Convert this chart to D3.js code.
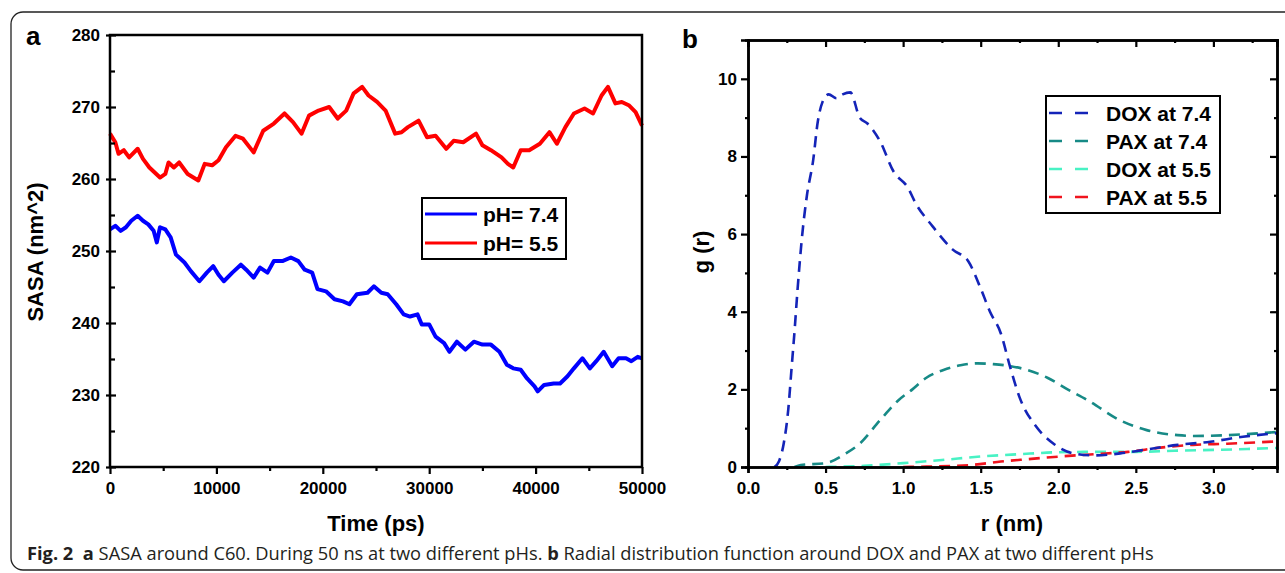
<!DOCTYPE html>
<html>
<head>
<meta charset="utf-8">
<script src="https://cdn.jsdelivr.net/npm/d3@7"></script>
<style>
  body { margin: 0; background: #fff; }
  text { font-family: "Liberation Sans", Arial, sans-serif; font-weight: bold; fill: #000; }
  .caption text, text.caption { font-family: "Open Sans", "Noto Sans", sans-serif; font-weight: normal; fill: #231f20; }
</style>
</head>
<body>
<svg width="1285" height="573"></svg>
<script>
// panel a : SASA vs time
const timePs74 = [0,500,1000,1500,2000,2600,3100,3600,4100,4400,4700,5200,5700,6200,7000,7600,8400,9100,9700,10200,10700,11500,12300,12800,13500,14100,14800,15400,16200,17000,17700,18300,19000,19500,20300,21100,21900,22500,23200,24200,24800,25500,26100,26900,27600,28200,28900,29300,30000,30600,31400,31900,32600,33400,34200,35000,35800,36600,37300,37900,38600,39200,39900,40200,40800,41700,42300,43000,43600,44400,45100,45700,46400,47200,47800,48500,49000,49600,50000];
const sasa74 = [253.0,253.5,252.8,253.3,254.2,254.9,254.2,253.7,252.8,251.2,253.3,253,251.9,249.5,248.4,247.2,245.8,247,247.9,246.7,245.8,247,248.1,247.4,246.3,247.7,247,248.6,248.6,249.1,248.6,247.4,247,244.7,244.4,243.3,243,242.6,244,244.2,245.1,244.2,244,242.6,241.2,240.9,241.2,239.8,239.8,238.1,237.2,236,237.4,236.3,237.4,237,237,236,234.2,233.7,233.5,232.3,231.2,230.5,231.4,231.6,231.6,232.6,233.7,235.1,233.7,234.7,236,234,235.1,235.1,234.7,235.3,235.1];

const timePs55 = [0,500,800,1300,1800,2600,3100,3700,4700,5200,5500,6000,6500,7300,8300,8900,9600,10200,10900,11800,12500,13500,14400,15400,16400,17200,18000,18700,19600,20600,21400,22200,22900,23700,24300,25100,25900,26800,27400,28000,29000,29800,30600,31600,32300,33200,34400,35000,35800,36800,37400,37900,38600,39400,40400,41300,42000,42800,43600,44600,45400,46200,46800,47500,48100,48800,49400,50000];
const sasa55 = [266.3,265.1,263.5,264,263,264.2,262.8,261.6,260.2,260.7,262.3,261.6,262.3,260.7,259.8,262.1,261.9,262.6,264.4,266,265.6,263.7,266.7,267.7,269.1,267.9,266.3,268.8,269.5,270,268.4,269.5,271.9,272.8,271.6,270.7,269.5,266.3,266.5,267.2,268.1,265.8,266,264.2,265.3,265.1,266.3,264.7,264,263,262.1,261.6,264,264,264.9,266.5,264.9,267.2,269.1,269.8,269.1,271.6,272.8,270.5,270.7,270.2,269.3,267.4];

const timeTicks = [0,10000,20000,30000,40000,50000];
const sasaTicks = [220,230,240,250,260,270,280];
const legendA = ['pH= 7.4','pH= 5.5'];

// panel b : radial distribution functions
const rDox74 = [0.17,0.2,0.23,0.26,0.28,0.3,0.32,0.35,0.38,0.42,0.45,0.48,0.52,0.57,0.61,0.66,0.72,0.77,0.85,0.94,1.03,1.08,1.19,1.32,1.42,1.5,1.56,1.63,1.69,1.75,1.86,1.97,2.1,2.23,2.4,2.55,2.77,2.98,3.19,3.41];
const gDox74 = [0,0.15,0.6,1.5,2.5,3.5,4.6,6.0,7.0,7.9,8.9,9.4,9.6,9.5,9.6,9.65,9.0,8.85,8.4,7.6,7.2,6.8,6.2,5.6,5.3,4.6,4.0,3.44,2.57,1.8,1.03,0.6,0.35,0.3,0.35,0.44,0.57,0.65,0.78,0.87];
const rPax74 = [0.3,0.34,0.5,0.63,0.72,0.85,0.97,1.06,1.15,1.26,1.37,1.48,1.58,1.69,1.8,1.93,2.06,2.19,2.4,2.57,2.77,2.87,3.09,3.3,3.41];
const gPax74 = [0,0.05,0.1,0.35,0.6,1.2,1.72,2.0,2.3,2.5,2.62,2.67,2.65,2.6,2.5,2.3,2.0,1.72,1.2,0.95,0.82,0.8,0.82,0.87,0.9];
const rDox55 = [0.5,0.75,1.0,1.25,1.5,1.75,2.0,2.25,2.5,2.75,3.0,3.41];
const gDox55 = [0,0.03,0.1,0.18,0.27,0.33,0.38,0.39,0.39,0.42,0.44,0.49];
const rPax55 = [1.0,1.15,1.43,1.63,1.8,2.01,2.23,2.45,2.66,2.87,3.09,3.41];
const gPax55 = [0,0.01,0.05,0.14,0.2,0.27,0.33,0.39,0.5,0.57,0.6,0.66];

const rTicks = [0,0.5,1.0,1.5,2.0,2.5,3.0];
const gTicks = [0,2,4,6,8,10];
const legendB = ['DOX at 7.4','PAX at 7.4','DOX at 5.5','PAX at 5.5'];
const colorsB = ['#1424b8','#178a86','#48f2c4','#f0141e'];

const svg = d3.select('svg');

// outer frame of the figure
svg.append('rect')
    .attr('x', 11).attr('y', 12)
    .attr('width', 1320).attr('height', 558)
    .attr('rx', 12)
    .attr('fill', 'none').attr('stroke', '#222').attr('stroke-width', 1.3);

// ---------- panel a ----------
const xA = d3.scaleLinear().domain([0, 50000]).range([110, 642]);
const yA = d3.scaleLinear().domain([220, 280]).range([467, 35]);

const gA = svg.append('g');

const lineA = (xs, ys) => d3.line()
    .x((d, i) => xA(xs[i]))
    .y(d => yA(d))(ys);

gA.append('path').attr('d', lineA(timePs55, sasa55))
    .attr('fill', 'none').attr('stroke', '#ff0000').attr('stroke-width', 4).attr('stroke-linejoin', 'round');
gA.append('path').attr('d', lineA(timePs74, sasa74))
    .attr('fill', 'none').attr('stroke', '#0000ff').attr('stroke-width', 4).attr('stroke-linejoin', 'round');

// minor ticks
gA.append('g').attr('transform', 'translate(0,467)')
    .call(d3.axisBottom(xA).tickValues(d3.range(5000, 50000, 10000)).tickSize(4).tickFormat(''))
    .call(g => g.select('.domain').remove());
gA.append('g').attr('transform', 'translate(110,0)')
    .call(d3.axisLeft(yA).tickValues(d3.range(225, 280, 10)).tickSize(-5).tickFormat(''))
    .call(g => g.select('.domain').remove());

const axBottomA = gA.append('g').attr('transform', 'translate(0,467)')
    .call(d3.axisBottom(xA).tickValues(timeTicks).tickSize(7).tickPadding(8).tickFormat(d3.format('d')));
axBottomA.select('.domain').remove();
axBottomA.selectAll('text').attr('font-size', 17).attr('font-family', 'Liberation Sans');

const axLeftA = gA.append('g').attr('transform', 'translate(110,0)')
    .call(d3.axisLeft(yA).tickValues(sasaTicks).tickSize(4).tickPadding(6));
axLeftA.select('.domain').remove();
axLeftA.selectAll('line').attr('x1', 6);
axLeftA.selectAll('text').attr('font-size', 17).attr('font-family', 'Liberation Sans');

svg.selectAll('.tick line').attr('stroke-width', 2.2);

gA.append('rect')
    .attr('x', 110).attr('y', 35).attr('width', 532).attr('height', 432)
    .attr('fill', 'none').attr('stroke', '#000').attr('stroke-width', 2.5);

gA.append('text').attr('x', 376).attr('y', 531).attr('text-anchor', 'middle')
    .attr('font-size', 22).text('Time (ps)');
gA.append('text').attr('transform', 'translate(43,252) rotate(-90)').attr('text-anchor', 'middle')
    .attr('font-size', 22).text('SASA (nm^2)');
gA.append('text').attr('x', 26).attr('y', 45).attr('font-size', 26).text('a');

// legend a
const legA = gA.append('g');
legA.append('rect').attr('x', 422).attr('y', 198).attr('width', 144).attr('height', 61)
    .attr('fill', '#fff').attr('stroke', '#000').attr('stroke-width', 2);
legendA.forEach((lab, i) => {
    const y = 214 + i * 29;
    legA.append('line').attr('x1', 425).attr('x2', 477).attr('y1', y).attr('y2', y)
        .attr('stroke', i === 0 ? '#0000ff' : '#ff0000').attr('stroke-width', 3);
    legA.append('text').attr('x', 483).attr('y', y + 8).attr('font-size', 21).text(lab);
});

// ---------- panel b ----------
const xB = d3.scaleLinear().domain([0, 3.41]).range([748, 1277]);
const yB = d3.scaleLinear().domain([0, 11]).range([467, 40]);

const gB = svg.append('g');

const seriesB = [[rDox74, gDox74], [rPax74, gPax74], [rDox55, gDox55], [rPax55, gPax55]];
const lineB = d3.line().x(d => xB(d[0])).y(d => yB(d[1])).curve(d3.curveMonotoneX);

// draw back to front like the original
[2, 3, 1, 0].forEach(k => {
    const [rs, gs] = seriesB[k];
    gB.append('path').attr('d', lineB(rs.map((r, i) => [r, gs[i]])))
        .attr('fill', 'none').attr('stroke', colorsB[k]).attr('stroke-width', 2.6)
        .attr('stroke-dasharray', '11,7');
});

const minorR = d3.range(0.25, 3.41, 0.5);
const minorG = [1, 3, 5, 7, 9];

gB.append('g').attr('transform', 'translate(0,467)')
    .call(d3.axisBottom(xB).tickValues(minorR).tickSize(3).tickFormat(''));
gB.append('g').attr('transform', 'translate(0,40)')
    .call(d3.axisTop(xB).tickValues(minorR).tickSize(-3).tickFormat(''));
gB.append('g').attr('transform', 'translate(748,0)')
    .call(d3.axisLeft(yB).tickValues(minorG).tickSize(3).tickFormat(''));
gB.append('g').attr('transform', 'translate(1277,0)')
    .call(d3.axisRight(yB).tickValues(minorG).tickSize(-3).tickFormat(''));

const axBottomB = gB.append('g').attr('transform', 'translate(0,467)')
    .call(d3.axisBottom(xB).tickValues(rTicks).tickSize(6).tickPadding(9).tickFormat(d3.format('.1f')));
axBottomB.selectAll('text').attr('font-size', 17).attr('font-family', 'Liberation Sans');
gB.append('g').attr('transform', 'translate(0,40)')
    .call(d3.axisTop(xB).tickValues(rTicks).tickSize(-7).tickFormat(''));
const axLeftB = gB.append('g').attr('transform', 'translate(748,0)')
    .call(d3.axisLeft(yB).tickValues(gTicks).tickSize(7).tickPadding(4));
axLeftB.selectAll('text').attr('font-size', 17).attr('font-family', 'Liberation Sans');
gB.append('g').attr('transform', 'translate(1277,0)')
    .call(d3.axisRight(yB).tickValues(gTicks).tickSize(-7).tickFormat(''));

gB.selectAll('.domain').attr('stroke-width', 2.5).attr('stroke', '#000');
gB.selectAll('.tick line').attr('stroke-width', 2.2);

gB.append('text').attr('x', 1012).attr('y', 531).attr('text-anchor', 'middle')
    .attr('font-size', 22).text('r (nm)');
gB.append('text').attr('transform', 'translate(709,252) rotate(-90)').attr('text-anchor', 'middle')
    .attr('font-size', 22).text('g (r)');
gB.append('text').attr('x', 682).attr('y', 48).attr('font-size', 26).text('b');

// legend b
const legB = gB.append('g');
legB.append('rect').attr('x', 1046).attr('y', 96).attr('width', 174).attr('height', 117)
    .attr('fill', '#fff').attr('stroke', '#000').attr('stroke-width', 2);
legendB.forEach((lab, i) => {
    const y = 113 + i * 28;
    legB.append('line').attr('x1', 1049).attr('x2', 1089).attr('y1', y).attr('y2', y)
        .attr('stroke', colorsB[i]).attr('stroke-width', 2.6).attr('stroke-dasharray', '13,13');
    legB.append('text').attr('x', 1106).attr('y', y + 8).attr('font-size', 21).text(lab);
});

// ---------- caption ----------
const cap = svg.append('text').attr('class', 'caption').attr('x', 27).attr('y', 560).attr('font-size', 16);
const parts = [
    ['Fig. 2', true], ['\u00a0\u00a0', false], ['a', true],
    [' SASA around C60. During 50 ns at two different pHs. ', false], ['b', true],
    [' Radial distribution function around DOX and PAX at two different pHs', false]
];
parts.forEach(p => {
    cap.append('tspan').attr('font-weight', p[1] ? 'bold' : 'normal').text(p[0]);
});
// fit caption to the width it has in the figure
const capLen = cap.node().getComputedTextLength();
cap.attr('font-size', 16 * 1128 / capLen);
</script>
</body>
</html>
